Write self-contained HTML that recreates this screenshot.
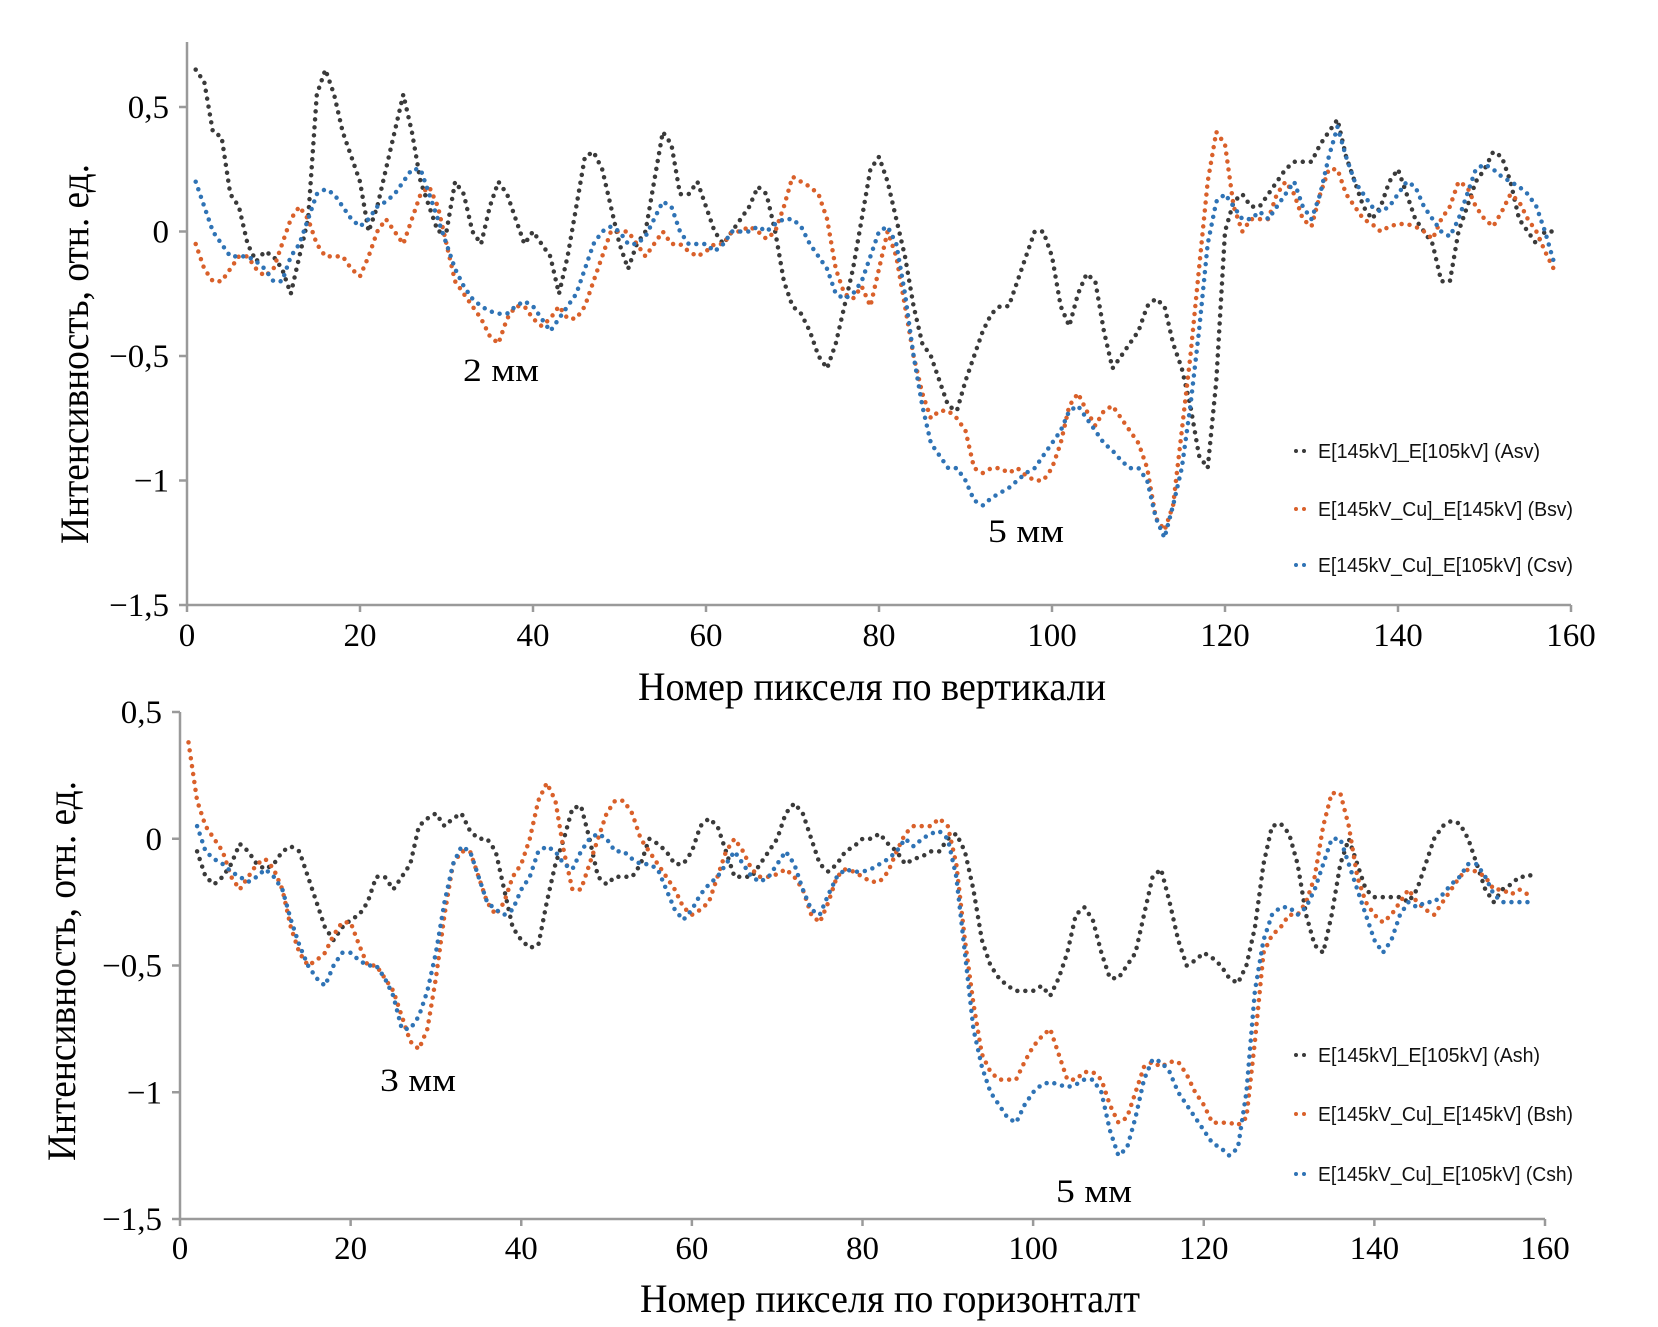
<!DOCTYPE html>
<html><head><meta charset="utf-8"><style>
html,body{margin:0;padding:0;background:#fff;}
svg{display:block;}
.tk{font-family:"Liberation Serif",serif;font-size:33px;fill:#000;}
.tt{font-family:"Liberation Serif",serif;font-size:40px;fill:#000;}
.lg{font-family:"Liberation Sans",sans-serif;font-size:20px;fill:#111;}
</style></head><body>
<svg id="chart" width="1658" height="1327" viewBox="0 0 1658 1327" xmlns="http://www.w3.org/2000/svg"></svg>
<script>
// ---- data ----
const xTicks = [0,20,40,60,80,100,120,140,160];
const yTicksTop = [0.5,0,-0.5,-1,-1.5];
const yTickLabelsTop = ["0,5","0","\u22120,5","\u22121","\u22121,5"];
const yTicksBot = [0.5,0,-0.5,-1,-1.5];
const yTickLabelsBot = ["0,5","0","\u22120,5","\u22121","\u22121,5"];
const seriesNamesTop = ["E[145kV]_E[105kV] (Asv)","E[145kV_Cu]_E[145kV] (Bsv)","E[145kV_Cu]_E[105kV] (Csv)"];
const seriesNamesBot = ["E[145kV]_E[105kV] (Ash)","E[145kV_Cu]_E[145kV] (Bsh)","E[145kV_Cu]_E[105kV] (Csh)"];
const startTopA = 1, startTopB = 1, startTopC = 1;
const topA = [0.65,0.6,0.4,0.38,0.15,0.1,-0.05,-0.12,-0.08,-0.1,-0.15,-0.25,-0.1,0.05,0.55,0.65,0.55,0.4,0.3,0.2,0.0,0.1,0.25,0.4,0.55,0.4,0.2,0.1,0.0,0.0,0.2,0.15,0.0,-0.05,0.1,0.2,0.15,0.05,-0.05,0.0,-0.05,-0.1,-0.25,-0.1,0.1,0.3,0.32,0.25,0.1,-0.05,-0.15,-0.05,0.0,0.2,0.4,0.35,0.15,0.15,0.2,0.1,0.0,-0.05,0.0,0.05,0.1,0.18,0.15,0.0,-0.2,-0.3,-0.33,-0.4,-0.5,-0.55,-0.45,-0.3,-0.15,0.05,0.25,0.3,0.2,0.05,-0.1,-0.3,-0.45,-0.5,-0.6,-0.7,-0.72,-0.6,-0.5,-0.4,-0.33,-0.3,-0.3,-0.2,-0.1,0.0,0.0,-0.1,-0.3,-0.38,-0.25,-0.17,-0.2,-0.4,-0.55,-0.5,-0.45,-0.4,-0.3,-0.27,-0.3,-0.45,-0.55,-0.7,-0.9,-0.95,-0.6,0.0,0.12,0.15,0.1,0.1,0.15,0.2,0.25,0.28,0.28,0.28,0.35,0.4,0.45,0.3,0.2,0.1,0.05,0.1,0.2,0.25,0.15,0.05,0.0,-0.05,-0.2,-0.2,0.0,0.1,0.2,0.25,0.32,0.3,0.2,0.05,0.0,-0.05,0.0,0.0];
const topB = [-0.05,-0.15,-0.2,-0.2,-0.15,-0.1,-0.1,-0.15,-0.18,-0.15,-0.05,0.05,0.1,0.05,-0.05,-0.1,-0.1,-0.1,-0.15,-0.18,-0.1,0.0,0.05,0.0,-0.05,0.05,0.15,0.18,0.1,-0.05,-0.2,-0.25,-0.3,-0.35,-0.42,-0.45,-0.35,-0.3,-0.3,-0.35,-0.38,-0.35,-0.3,-0.35,-0.35,-0.3,-0.2,-0.1,0.0,0.0,0.0,-0.05,-0.1,-0.05,0.0,-0.05,-0.05,-0.08,-0.1,-0.08,-0.05,-0.05,0.0,0.0,0.02,0.0,-0.03,0.0,0.1,0.22,0.2,0.18,0.15,0.05,-0.15,-0.25,-0.27,-0.22,-0.3,-0.15,0.0,-0.1,-0.3,-0.5,-0.65,-0.75,-0.72,-0.72,-0.75,-0.8,-0.95,-0.97,-0.95,-0.95,-0.97,-0.95,-0.98,-1.0,-1.0,-0.95,-0.85,-0.7,-0.65,-0.72,-0.78,-0.72,-0.7,-0.75,-0.8,-0.85,-0.95,-1.15,-1.2,-1.1,-0.8,-0.5,-0.15,0.2,0.4,0.35,0.1,0.0,0.05,0.05,0.05,0.15,0.2,0.15,0.05,0.02,0.15,0.25,0.25,0.15,0.1,0.05,0.03,0.0,0.02,0.03,0.03,0.02,0.0,-0.03,0.05,0.1,0.2,0.18,0.1,0.05,0.02,0.08,0.15,0.12,0.05,0.0,-0.08,-0.15];
const topC = [0.2,0.1,0.0,-0.05,-0.1,-0.1,-0.1,-0.12,-0.15,-0.2,-0.2,-0.1,-0.05,0.05,0.15,0.17,0.15,0.1,0.05,0.02,0.05,0.1,0.12,0.15,0.2,0.25,0.25,0.15,0.05,-0.05,-0.15,-0.22,-0.27,-0.3,-0.32,-0.33,-0.33,-0.3,-0.28,-0.3,-0.35,-0.4,-0.35,-0.3,-0.25,-0.15,-0.05,0.0,0.02,0.0,-0.05,-0.05,-0.02,0.05,0.12,0.1,0.0,-0.05,-0.05,-0.05,-0.08,-0.05,0.0,0.0,0.0,0.02,0.0,0.03,0.05,0.05,0.02,-0.05,-0.1,-0.15,-0.25,-0.27,-0.25,-0.2,-0.1,0.0,0.02,-0.05,-0.25,-0.5,-0.7,-0.85,-0.9,-0.95,-0.95,-1.0,-1.08,-1.1,-1.07,-1.05,-1.03,-1.0,-0.97,-0.95,-0.9,-0.85,-0.8,-0.72,-0.7,-0.75,-0.8,-0.85,-0.88,-0.92,-0.95,-0.95,-1.0,-1.15,-1.23,-1.1,-0.95,-0.7,-0.4,-0.05,0.12,0.15,0.1,0.05,0.05,0.08,0.05,0.1,0.15,0.2,0.1,0.05,0.15,0.3,0.42,0.3,0.2,0.15,0.1,0.08,0.1,0.15,0.2,0.18,0.1,0.05,0.0,-0.02,0.05,0.15,0.25,0.27,0.25,0.22,0.2,0.18,0.15,0.1,0.0,-0.12];
const startBotA = 2, startBotB = 1, startBotC = 2;
const botA = [-0.05,-0.15,-0.18,-0.15,-0.1,-0.02,-0.05,-0.1,-0.12,-0.1,-0.05,-0.03,-0.05,-0.15,-0.25,-0.35,-0.4,-0.35,-0.32,-0.3,-0.25,-0.15,-0.15,-0.2,-0.15,-0.1,0.05,0.08,0.1,0.05,0.08,0.1,0.03,0.0,0.0,-0.05,-0.2,-0.35,-0.4,-0.43,-0.42,-0.25,-0.1,0.0,0.12,0.13,0.0,-0.15,-0.18,-0.15,-0.15,-0.15,-0.1,0.0,-0.02,-0.05,-0.1,-0.1,-0.05,0.05,0.08,0.05,-0.05,-0.15,-0.15,-0.15,-0.1,-0.05,0.0,0.1,0.14,0.1,0.0,-0.1,-0.13,-0.1,-0.05,-0.03,0.0,0.0,0.02,-0.02,-0.05,-0.1,-0.08,-0.07,-0.05,-0.05,0.0,0.02,-0.05,-0.2,-0.4,-0.5,-0.55,-0.58,-0.6,-0.6,-0.6,-0.58,-0.62,-0.55,-0.45,-0.3,-0.27,-0.32,-0.45,-0.55,-0.55,-0.5,-0.45,-0.3,-0.15,-0.12,-0.25,-0.4,-0.5,-0.48,-0.45,-0.47,-0.5,-0.55,-0.57,-0.5,-0.35,-0.1,0.05,0.06,0.02,-0.1,-0.3,-0.42,-0.45,-0.3,-0.1,0.0,-0.1,-0.2,-0.23,-0.23,-0.23,-0.23,-0.25,-0.2,-0.1,0.0,0.05,0.07,0.06,0.0,-0.1,-0.2,-0.25,-0.2,-0.18,-0.15,-0.15,-0.13];
const botB = [0.38,0.15,0.05,0.0,-0.05,-0.15,-0.2,-0.15,-0.1,-0.08,-0.12,-0.2,-0.35,-0.45,-0.5,-0.48,-0.45,-0.38,-0.33,-0.33,-0.42,-0.5,-0.5,-0.55,-0.6,-0.7,-0.8,-0.83,-0.75,-0.55,-0.3,-0.1,-0.05,-0.05,-0.15,-0.25,-0.3,-0.25,-0.15,-0.1,0.0,0.15,0.22,0.15,-0.05,-0.2,-0.2,-0.1,0.0,0.1,0.15,0.15,0.1,0.0,-0.05,-0.1,-0.15,-0.2,-0.27,-0.3,-0.28,-0.25,-0.15,-0.05,0.0,-0.05,-0.12,-0.15,-0.15,-0.14,-0.12,-0.15,-0.2,-0.3,-0.33,-0.25,-0.15,-0.12,-0.13,-0.15,-0.17,-0.17,-0.13,-0.05,0.02,0.05,0.05,0.05,0.08,0.05,-0.1,-0.4,-0.65,-0.85,-0.92,-0.95,-0.95,-0.95,-0.88,-0.82,-0.78,-0.75,-0.85,-0.95,-0.95,-0.92,-0.92,-0.95,-1.05,-1.12,-1.1,-1.0,-0.9,-0.88,-0.9,-0.88,-0.88,-0.93,-1.0,-1.05,-1.12,-1.12,-1.12,-1.13,-1.1,-0.8,-0.45,-0.38,-0.35,-0.3,-0.3,-0.25,-0.15,0.05,0.18,0.18,0.05,-0.15,-0.25,-0.3,-0.33,-0.3,-0.25,-0.2,-0.25,-0.28,-0.3,-0.25,-0.2,-0.15,-0.12,-0.13,-0.15,-0.2,-0.2,-0.22,-0.2,-0.22];
const botC = [0.05,-0.05,-0.08,-0.1,-0.13,-0.15,-0.17,-0.15,-0.12,-0.15,-0.2,-0.32,-0.42,-0.5,-0.55,-0.58,-0.5,-0.45,-0.45,-0.48,-0.5,-0.5,-0.55,-0.62,-0.75,-0.75,-0.7,-0.6,-0.45,-0.25,-0.1,-0.03,-0.05,-0.15,-0.25,-0.28,-0.3,-0.28,-0.2,-0.15,-0.05,-0.03,-0.05,-0.1,-0.12,-0.05,0.0,0.02,0.0,-0.05,-0.05,-0.08,-0.1,-0.1,-0.12,-0.2,-0.28,-0.32,-0.28,-0.22,-0.18,-0.15,-0.1,-0.05,-0.1,-0.15,-0.17,-0.15,-0.1,-0.05,-0.1,-0.2,-0.28,-0.3,-0.22,-0.15,-0.12,-0.13,-0.13,-0.12,-0.1,-0.08,-0.05,0.0,-0.03,0.0,0.02,0.03,0.0,-0.15,-0.45,-0.75,-0.9,-1.0,-1.05,-1.1,-1.12,-1.05,-1.0,-0.97,-0.96,-0.97,-0.98,-0.97,-0.95,-0.95,-1.0,-1.15,-1.25,-1.22,-1.1,-0.95,-0.87,-0.88,-0.92,-1.0,-1.05,-1.1,-1.15,-1.2,-1.22,-1.25,-1.22,-1.0,-0.6,-0.4,-0.3,-0.27,-0.27,-0.3,-0.27,-0.2,-0.1,0.0,0.0,-0.1,-0.2,-0.3,-0.4,-0.45,-0.4,-0.3,-0.25,-0.27,-0.25,-0.25,-0.22,-0.18,-0.15,-0.1,-0.1,-0.15,-0.22,-0.25,-0.25,-0.25,-0.25];
const colors = ["#3a3a3a","#d9602a","#2f73b5"];

const NS = "http://www.w3.org/2000/svg";
const svg = document.getElementById("chart");
function mk(tag, attrs, parent){ const e=document.createElementNS(NS,tag); for(const k in attrs) e.setAttribute(k,attrs[k]); (parent||svg).appendChild(e); return e; }

function drawPanel(p){
  const g = mk("g",{});
  
  
  const sx = v => p.x0 + (v - 0) * (p.x1 - p.x0) / 160;
  const sy = v => p.yA + (0.5 - v) * (p.yB - p.yA) / 2.0;
  const ya = mk("line",{x1:p.x0,y1:p.axTop,x2:p.x0,y2:p.yB,stroke:"#9a9a9a","stroke-width":2.5},g);
  
  
  const xa = mk("line",{x1:p.x0,y1:p.yB,x2:p.x1,y2:p.yB,stroke:"#9a9a9a","stroke-width":2.5},g);
  
  
  xTicks.forEach(t=>{
    mk("line",{x1:sx(t),y1:p.yB,x2:sx(t),y2:p.yB+7,stroke:"#9a9a9a","stroke-width":2.5},g);
    const tx = mk("text",{x:sx(t),y:p.xLabY,"text-anchor":"middle","class":"tk"},g);
    
    
    tx.textContent = String(t);
  });
  p.yt.forEach((t,i)=>{
    mk("line",{x1:p.x0-8,y1:sy(t),x2:p.x0,y2:sy(t),stroke:"#9a9a9a","stroke-width":2.5},g);
    const tx = mk("text",{x:p.x0-18,y:sy(t)+11,"text-anchor":"end","class":"tk"},g);
    
    
    tx.textContent = p.ytl[i];
  });
  p.series.forEach((s,si)=>{
    let d="";
    s.vals.forEach((v,i)=>{ d += (i?"L":"M") + sx(s.start+i).toFixed(1) + " " + sy(v).toFixed(1) + " "; });
    const path = mk("path",{d:d,fill:"none",stroke:colors[si],"stroke-width":4.5,"stroke-linecap":"round","stroke-linejoin":"round","stroke-dasharray":"0 8"},g);
    
    
  });
  p.legendNames.forEach((n,i)=>{
    const ly = p.legY[i];
    const lm = mk("line",{x1:1296,y1:ly,x2:1312,y2:ly,stroke:colors[i],"stroke-width":4,"stroke-linecap":"round","stroke-dasharray":"0 8"},g);
    
    
    const lt = mk("text",{x:1318,y:ly+7,"class":"lg",textLength:(i===0?222:255),lengthAdjust:"spacingAndGlyphs"},g);
    
    
    lt.textContent = n;
  });
  const xt = mk("text",{x:p.xtX,y:p.xtY,"text-anchor":"middle","class":"tt",textLength:p.xtW,lengthAdjust:"spacingAndGlyphs"},g);
  
  
  xt.textContent = p.xTitle;
  const yt = mk("text",{x:0,y:0,"text-anchor":"middle","class":"tt",textLength:380,lengthAdjust:"spacingAndGlyphs",transform:"translate("+p.ytX+","+p.ytY+") rotate(-90)"},g);
  
  
  yt.textContent = "Интенсивность, отн. ед.";
  p.notes.forEach(nt=>{
    const a = mk("text",{x:nt[0],y:nt[1],"class":"tk",textLength:76,lengthAdjust:"spacingAndGlyphs"},g);
    
    
    a.textContent = nt[2];
  });
}

drawPanel({name:"top-chart",x0:187,x1:1571,yA:107,yB:605,axTop:42,xLabY:646,yt:yTicksTop,ytl:yTickLabelsTop,
  series:[{start:startTopA,vals:topA},{start:startTopB,vals:topB},{start:startTopC,vals:topC}],
  legendNames:seriesNamesTop,legY:[451,509,565],xTitle:"Номер пикселя по вертикали",xtX:872,xtY:700,xtW:468,
  ytX:88,ytY:354,notes:[[463,381,"2 мм"],[988,542,"5 мм"]]});
drawPanel({name:"bottom-chart",x0:180,x1:1545,yA:712,yB:1219,axTop:712,xLabY:1259,yt:yTicksBot,ytl:yTickLabelsBot,
  series:[{start:startBotA,vals:botA},{start:startBotB,vals:botB},{start:startBotC,vals:botC}],
  legendNames:seriesNamesBot,legY:[1055,1114,1174],xTitle:"Номер пикселя по горизонталт",xtX:890,xtY:1312,xtW:500,
  ytX:75,ytY:971,notes:[[380,1091,"3 мм"],[1056,1202,"5 мм"]]});
</script>
</body></html>
